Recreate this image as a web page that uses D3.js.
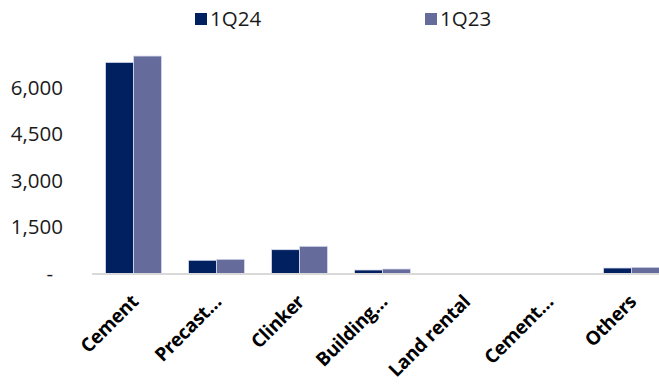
<!DOCTYPE html>
<html>
<head>
<meta charset="utf-8">
<script src="https://cdn.jsdelivr.net/npm/d3@7"></script>
<style>
  html, body { margin: 0; padding: 0; background: #ffffff; }
  svg { display: block; }
</style>
</head>
<body>
<svg id="chart" width="659" height="385"></svg>
<script>
const categories = ["Cement", "Precast…", "Clinker", "Building…", "Land rental", "Cement…", "Others"];
const series = ["1Q24", "1Q23"];
const values1Q24 = [6810, 426, 768, 113, 0, 0, 177];
const values1Q23 = [7015, 458, 877, 145, 0, 0, 200];
const yTicks = [0, 1500, 3000, 4500, 6000];
const colors = ["#002060", "#656B9A"];

const svg = d3.select("#chart");
const x0 = 92, step = 83;
const x = d3.scaleBand().domain(categories)
  .range([x0, x0 + step * categories.length])
  .paddingInner(0.325).paddingOuter(0.1627);
const xs = d3.scaleBand().domain(series).range([0, x.bandwidth()]);
const y = d3.scaleLinear().domain([0, 7500]).range([273.5, 41]);

// y labels
const fmt = d3.format(",");
svg.append("g").selectAll("text").data(yTicks).join("text")
  .attr("x", d => d === 0 ? 53 : 63)
  .attr("y", d => y(d))
  .attr("dy", "0.36em")
  .attr("text-anchor", "end")
  .attr("font-family", "'Open Sans', sans-serif")
  .attr("font-size", 20.5)
  .attr("fill", "#1a1a1a")
  .text(d => d === 0 ? "-" : fmt(d));

// bars
const data = categories.map((c, i) => ({ c, vals: [values1Q24[i], values1Q23[i]] }));
const groups = svg.append("g").selectAll("g").data(data).join("g")
  .attr("transform", d => `translate(${x(d.c)},0)`);
groups.selectAll("rect").data(d => d.vals.map((v, j) => ({ s: series[j], v, j })))
  .join("rect")
  .attr("x", d => xs(d.s))
  .attr("width", xs.bandwidth())
  .attr("y", d => y(d.v))
  .attr("height", d => y(0) - y(d.v))
  .attr("fill", d => colors[d.j])
  .attr("stroke", "#d9dcef")
  .attr("stroke-width", 0.8);

// axis line
svg.append("line")
  .attr("x1", x0).attr("x2", x0 + step * categories.length)
  .attr("y1", y(0) + 0.5).attr("y2", y(0) + 0.5)
  .attr("stroke", "#d9d9d9").attr("stroke-width", 2);

// x labels
svg.append("g").selectAll("text").data(categories).join("text")
  .attr("transform", d => `translate(${x(d) + x.bandwidth() / 2 + 6},303) rotate(-45)`)
  .attr("text-anchor", "end")
  .attr("font-family", "'Open Sans', sans-serif")
  .attr("font-weight", "bold")
  .attr("font-size", 19)
  .attr("letter-spacing", "-0.3")
  .attr("fill", "#000")
  .text(d => d);

// legend
const legX = [195, 425];
const leg = svg.append("g").selectAll("g").data(series).join("g")
  .attr("transform", (d, i) => `translate(${legX[i]},0)`);
leg.append("rect").attr("x", 0).attr("y", 13).attr("width", 12).attr("height", 12)
  .attr("fill", (d, i) => colors[i]);
leg.append("text").attr("x", 15).attr("y", 19).attr("dy", "0.36em")
  .attr("font-family", "'Open Sans', sans-serif")
  .attr("font-size", 20.5)
  .attr("fill", "#1a1a1a")
  .text(d => d);
</script>
</body>
</html>
